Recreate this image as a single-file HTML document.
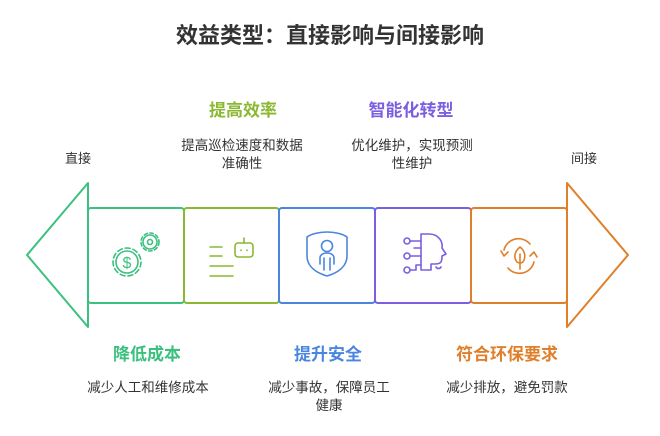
<!DOCTYPE html>
<html><head><meta charset="utf-8"><style>
body{margin:0;background:#fff;}
text{font-family:"Liberation Sans","Noto Sans CJK SC",sans-serif;}
</style></head><body>
<svg width="660" height="431" viewBox="0 0 660 431" xmlns="http://www.w3.org/2000/svg">
<text x="330" y="43" text-anchor="middle" font-size="22" font-weight="bold" fill="#333">效益类型：直接影响与间接影响</text>

<g fill="none" stroke-width="2" stroke-linejoin="round">
<path d="M88,183 L88,327 L27,255 Z" stroke="#3cc07f"/>
<path d="M567,183 L567,327 L628,255 Z" stroke="#e07f2a"/>
<rect x="88" y="208" width="96" height="95" rx="3" fill="#fff" stroke="#3cc07f"/>
<rect x="184" y="208" width="95" height="95" rx="3" fill="#fff" stroke="#8ab832"/>
<rect x="279" y="208" width="96" height="95" rx="3" fill="#fff" stroke="#4a86e0"/>
<rect x="375" y="208" width="96" height="95" rx="3" fill="#fff" stroke="#7b5fe0"/>
<rect x="471" y="208" width="96" height="95" rx="3" fill="#fff" stroke="#e07f2a"/>
</g>

<g fill="none" stroke-width="1.6" stroke-linecap="round" stroke-linejoin="round">
<g stroke="#3cc07f">
<circle cx="127" cy="262" r="14" stroke-dasharray="5 3"/><circle cx="127" cy="262" r="11"/>
<text x="127" y="268" font-size="16" text-anchor="middle" fill="#3cc07f" stroke="none">$</text>
<circle cx="150" cy="242" r="9" stroke-dasharray="3.5 2.5"/><circle cx="150" cy="242" r="7"/><circle cx="150" cy="242" r="2.5"/>
</g>
<g stroke="#8ab832">
<path d="M210,247h12M210,256h12M210,266h23M210,276h23"/>
<rect x="235" y="243" width="18" height="14" rx="3"/><path d="M244,243v-5"/>
<path d="M241,250v0.5M247,250v0.5"/>
</g>
<g stroke="#4a86e0">
<path d="M327,232c-8,0-16,2-20,5v19c0,11,10,17,20,20c10-3,20-9,20-20v-19c-4-3-12-5-20-5z"/>
<circle cx="327" cy="246" r="5.5"/><path d="M320,264v-6c0-3,3-5,7-5s7,2,7,5v6M324,258v12M330,258v12"/>
</g>
<g stroke="#7b5fe0">
<path d="M421,234h8c10,0,14,8,13,14l4,6-4,2c0,6-1,8-7,8h-4v6h-10z"/>
<circle cx="407" cy="241" r="3"/><circle cx="407" cy="256" r="3"/><circle cx="407" cy="270" r="3"/>
<path d="M410,241h11M410,256h11M410,270h6v-5h5M414,248h7"/><path d="M436,267c1,2,4,2,5,0"/>
</g>
<g stroke="#e07f2a">
<path d="M504,250a15,15,0,0,1,26,-6M534,262a15,15,0,0,1,-26,6"/>
<path d="M501,251l3,5 4,-4M537,257l-3,-5-4,4"/>
<path d="M520,247c-5,4-7,10,-3,15c3,2,6,1,7,-2c2,-5,0,-10,-4,-13zM520,254v15"/>
</g>
</g>

<g font-size="13" fill="#333" text-anchor="middle">
<text x="78" y="163">直接</text>
<text x="584" y="163">间接</text>
</g>
<g font-size="17" font-weight="bold" text-anchor="middle">
<text x="243" y="116" fill="#8ab832">提高效率</text>
<text x="411" y="116" fill="#7b5fe0">智能化转型</text>
<text x="147" y="360" fill="#3cc07f">降低成本</text>
<text x="328" y="360" fill="#4a86e0">提升安全</text>
<text x="507" y="360" fill="#e07f2a">符合环保要求</text>
</g>
<g font-size="13.5" fill="#333" text-anchor="middle">
<text x="242" y="150">提高巡检速度和数据</text>
<text x="242" y="168">准确性</text>
<text x="412" y="150">优化维护，实现预测</text>
<text x="412" y="168">性维护</text>
<text x="148" y="392">减少人工和维修成本</text>
<text x="329" y="392">减少事故，保障员工</text>
<text x="329" y="410">健康</text>
<text x="507" y="392">减少排放，避免罚款</text>
</g>
</svg>
</body></html>
